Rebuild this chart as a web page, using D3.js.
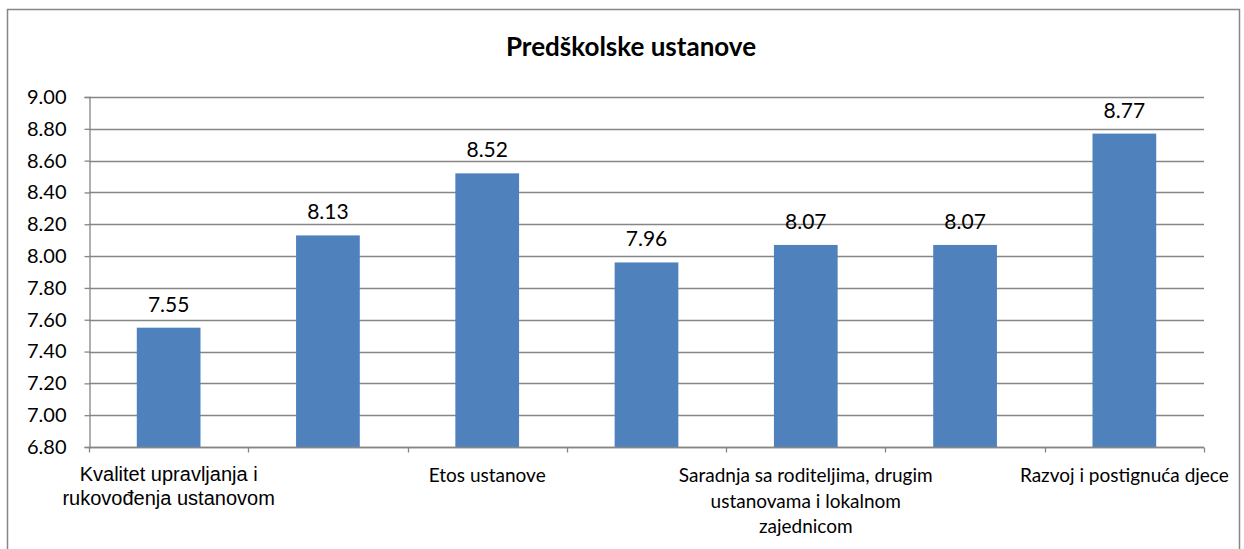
<!DOCTYPE html>
<html>
<head>
<meta charset="utf-8">
<script src="https://cdn.jsdelivr.net/npm/d3@7"></script>
<style>
  body { margin: 0; background: #fff; }
  svg { display: block; }
</style>
</head>
<body>
<svg id="chart" width="1244" height="549"></svg>
<script>
// categories, split into the lines shown under the axis
// (Excel hides every other label, so 2, 4 and 6 are blank)
const categories = [
  ["Kvalitet upravljanja i", "rukovođenja ustanovom"],
  [],
  ["Etos ustanove"],
  [],
  ["Saradnja sa roditeljima, drugim", "ustanovama i lokalnom", "zajednicom"],
  [],
  ["Razvoj i postignuća djece"]
];
const values = [7.55, 8.13, 8.52, 7.96, 8.07, 8.07, 8.77];
const yTicks = [6.8, 7.0, 7.2, 7.4, 7.6, 7.8, 8.0, 8.2, 8.4, 8.6, 8.8, 9.0];

const svg = d3.select("#chart");
const plotLeft = 89, plotRight = 1204, plotTop = 97, plotBottom = 447;
const gridColor = "#868686";
const calibriLike = "Lato, 'Open Sans', sans-serif";
const arialLike = "'Liberation Sans', Arial, sans-serif";

// outer frame
svg.append("rect").attr("x", 7.5).attr("y", 9.5).attr("width", 1232).attr("height", 560)
  .attr("fill", "none").attr("stroke", gridColor).attr("stroke-width", 1.5);

svg.append("text").attr("x", 631).attr("y", 56).attr("text-anchor", "middle")
  .attr("font-family", calibriLike).attr("font-weight", "bold").attr("font-size", 26)
  .text("Predškolske ustanove");

const x = d3.scaleBand().domain(d3.range(categories.length)).range([plotLeft, plotRight]);
const y = d3.scaleLinear().domain([6.8, 9.0]).range([plotBottom, plotTop]);

// gridlines
svg.append("g").selectAll("line").data(yTicks).join("line")
  .attr("x1", plotLeft).attr("x2", plotRight)
  .attr("y1", d => Math.round(y(d)) + 0.5).attr("y2", d => Math.round(y(d)) + 0.5)
  .attr("stroke", gridColor).attr("stroke-width", 1.3);

// y axis
const yAxis = svg.append("g").attr("transform", `translate(${plotLeft + 0.5},0)`)
  .call(d3.axisLeft(y).tickValues(yTicks).tickFormat(d3.format(".2f")).tickSize(5).tickPadding(18));
yAxis.select(".domain").attr("stroke", gridColor).attr("stroke-width", 1.3);
yAxis.selectAll(".tick line").attr("stroke", gridColor).attr("stroke-width", 1.3);
yAxis.selectAll(".tick text").attr("font-family", calibriLike).attr("font-size", 20).attr("fill", "#000");

// bars
const barW = x.bandwidth() * 0.4;
svg.append("g").selectAll("rect").data(values).join("rect")
  .attr("x", (d, i) => x(i) + (x.bandwidth() - barW) / 2)
  .attr("width", barW)
  .attr("y", d => y(d))
  .attr("height", d => y(6.8) - y(d))
  .attr("fill", "#4f81bd");

// data labels
svg.append("g").selectAll("text").data(values).join("text")
  .attr("x", (d, i) => x(i) + x.bandwidth() / 2)
  .attr("y", d => y(d) - 16)
  .attr("text-anchor", "middle")
  .attr("font-family", calibriLike).attr("font-size", 21)
  .text(d => d.toFixed(2));

// x axis
const xAxis = svg.append("g").attr("transform", `translate(0,${plotBottom + 0.5})`);
xAxis.append("line").attr("x1", plotLeft).attr("x2", plotRight).attr("stroke", gridColor).attr("stroke-width", 1.3);
xAxis.selectAll("line.tk").data(d3.range(categories.length + 1)).join("line").attr("class", "tk")
  .attr("x1", i => Math.round(plotLeft + i * x.step()) + 0.5).attr("x2", i => Math.round(plotLeft + i * x.step()) + 0.5)
  .attr("y1", 0).attr("y2", 5).attr("stroke", gridColor).attr("stroke-width", 1.3);

// category labels
categories.forEach((lines, i) => {
  if (!lines.length) return;
  const first = i === 0;
  const t = svg.append("text").attr("text-anchor", "middle")
    .attr("font-family", first ? arialLike : calibriLike)
    .attr("font-size", first ? 20 : 19);
  lines.forEach((l, k) => {
    t.append("tspan").attr("x", x(i) + x.bandwidth() / 2)
      .attr("y", (first ? 481 : 482) + k * (first ? 24 : 25.5)).text(l);
  });
});
</script>
</body>
</html>
